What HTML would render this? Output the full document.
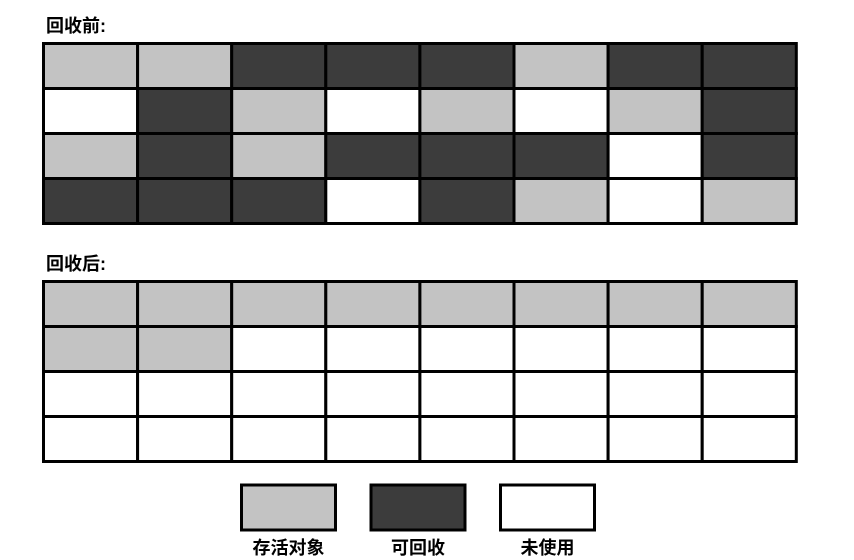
<!DOCTYPE html>
<html><head><meta charset="utf-8"><style>
body{margin:0;background:#fff;}
svg{display:block;font-family:"Liberation Sans","Noto Sans CJK SC",sans-serif;}
</style></head><body>
<svg id="c" width="854" height="560">
<text x="46" y="32" font-size="18" font-weight="bold">回收前:</text>
<text x="46" y="270" font-size="18" font-weight="bold">回收后:</text>
</svg>
<script>
const before=[
"LLDDDLDD",
"UDLULULD",
"LDLDDDUD",
"DDDUDLUL"];
const after=[
"LLLLLLLL",
"LLUUUUUU",
"UUUUUUUU",
"UUUUUUUU"];
const legendKeys=["L","D","U"];
const legendLabels=["存活对象","可回收","未使用"];
const colors={L:"#c3c3c3",D:"#3c3c3c",U:"#ffffff"};
const svg=document.getElementById('c');
const NS="http://www.w3.org/2000/svg";
const x0=43.5,cw=94.1,ch=45;
function grid(data,y0,name){
  data.forEach((row,r)=>{[...row].forEach((k,c)=>{
    const e=document.createElementNS(NS,'rect');
    e.setAttribute('x',x0+c*cw);e.setAttribute('y',y0+r*ch);
    e.setAttribute('width',cw);e.setAttribute('height',ch);
    e.setAttribute('fill',colors[k]);e.setAttribute('stroke','#000');e.setAttribute('stroke-width','3');
    
    
    svg.appendChild(e);
  });});
}
grid(before,43.5,'before');
grid(after,281.5,'after');
const lx=[241.5,371,500.5];
legendKeys.forEach((k,i)=>{
  const e=document.createElementNS(NS,'rect');
  e.setAttribute('x',lx[i]);e.setAttribute('y',485);e.setAttribute('width',94);e.setAttribute('height',45);
  e.setAttribute('fill',colors[k]);e.setAttribute('stroke','#000');e.setAttribute('stroke-width','3');
  
  
  svg.appendChild(e);
  const t=document.createElementNS(NS,'text');
  t.setAttribute('x',lx[i]+47);t.setAttribute('y',554);t.setAttribute('text-anchor','middle');
  t.setAttribute('font-size','18');t.setAttribute('font-weight','bold');
  t.textContent=legendLabels[i];
  
  
  svg.appendChild(t);
});
</script>
</body></html>
